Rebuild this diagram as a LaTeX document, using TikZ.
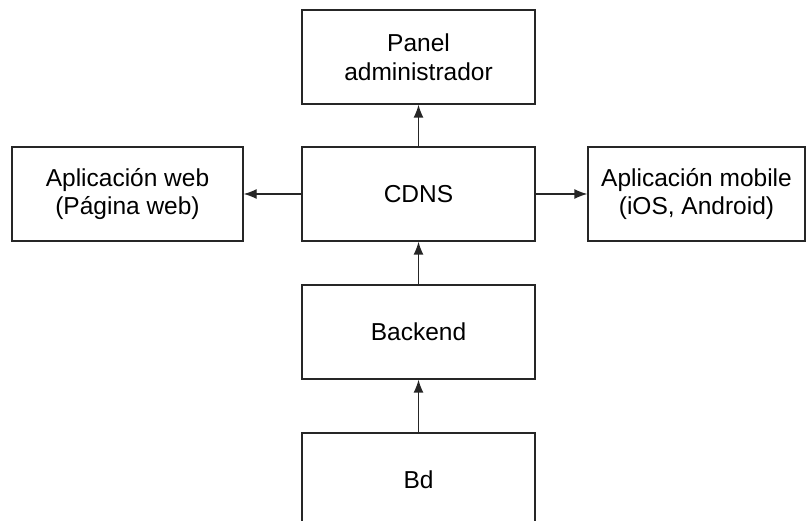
\documentclass[tikz,border=0pt]{standalone}
\usepackage{fontspec}
\setmainfont{Liberation Sans}
\usetikzlibrary{arrows.meta}
\begin{document}
\begin{tikzpicture}[x=1pt,y=-1pt,
  box/.style={draw=black!85, line width=1.3pt, rectangle, inner sep=0pt,
    minimum height=94pt, align=center,
    font=\fontsize{24.5}{28.5}\selectfont},
  conn/.style={draw=black!85, line width=1.3pt, -{Latex[length=13pt,width=10pt]}}]
\useasboundingbox (0,0) rectangle (807,521);
\node[box, minimum width=233pt] (panel) at (418.5,57) {Panel\\administrador};
\node[box, minimum width=233pt] (cdns) at (418.5,194) {CDNS};
\node[box, minimum width=231pt] (web) at (127.5,194) {Aplicación web\\(Página web)};
\node[box, minimum width=217pt] (mobile) at (696.5,194) {Aplicación mobile\\(iOS, Android)};
\node[box, minimum width=233pt] (backend) at (418.5,332) {Backend};
\node[box, minimum width=233pt] (bd) at (418.5,480) {Bd};
\draw[conn] (cdns) -- (panel);
\draw[conn] (cdns) -- (web);
\draw[conn] (cdns) -- (mobile);
\draw[conn] (backend) -- (cdns);
\draw[conn] (bd) -- (backend);
\end{tikzpicture}
\end{document}
